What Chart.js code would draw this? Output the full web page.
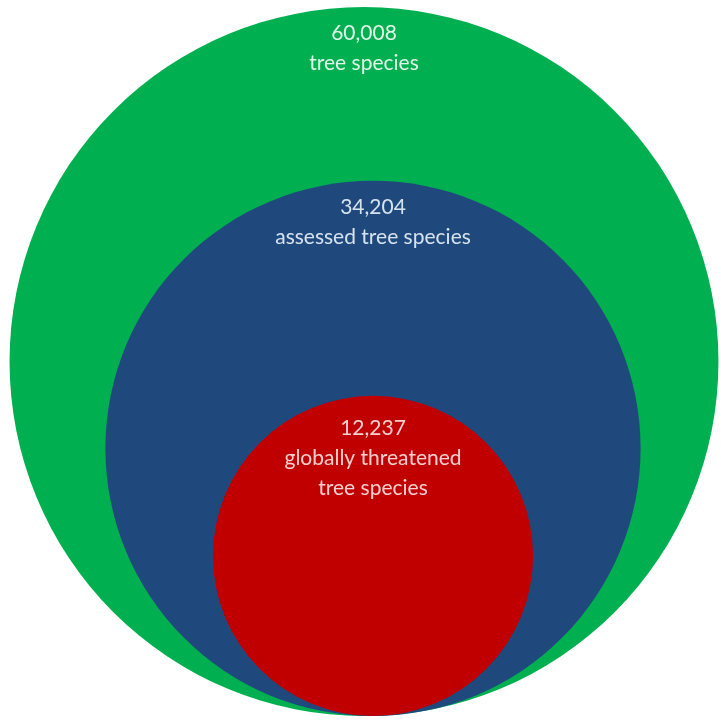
<!DOCTYPE html>
<html>
<head>
<meta charset="utf-8">
<script src="https://cdn.jsdelivr.net/npm/chart.js@4.4.1/dist/chart.umd.min.js"></script>
<style>
  html, body { margin: 0; padding: 0; background: #ffffff; }
  #wrap { width: 721px; height: 720px; position: relative; }
</style>
</head>
<body>
<div id="wrap"><canvas id="c"></canvas></div>
<script>
// ---- data ----
const categories = ["tree species", "assessed tree species", "globally threatened tree species"];
const values = [60008, 34204, 12237];
const valueLabels = ["60,008", "34,204", "12,237"];
const labelLines = [["tree species"], ["assessed tree species"], ["globally threatened", "tree species"]];
const colors = ["#00B050", "#1F497D", "#C00000"];

// ---- layout (not data) ----
const W = 721, H = 720;
const scaleK = 1.447;        // px radius per sqrt(value)  (area-proportional circles)
const baseline = 716;        // all circles rest on a common bottom line
const outerCx = 364;         // centre of largest circle
const innerShift = 9;        // inner circles shifted slightly to the right

const radii = values.map(v => scaleK * Math.sqrt(v));
const points = values.map((v, i) => ({
  x: outerCx + (i === 0 ? 0 : innerShift),
  y: baseline - radii[i],
  r: radii[i]
}));

const labelPlugin = {
  id: 'circleLabels',
  afterDatasetsDraw(chart) {
    const ctx = chart.ctx;
    ctx.save();
    ctx.textAlign = 'center';
    ctx.textBaseline = 'middle';
    ctx.font = '21px Lato, "Open Sans", sans-serif';
    chart.data.datasets.forEach((ds, i) => {
      const el = chart.getDatasetMeta(i).data[0];
      const top = el.y - el.options.radius;
      const lines = [valueLabels[i]].concat(labelLines[i]);
      const start = top + (i === 2 ? 32 : 26);
      ctx.fillStyle = ['rgba(235,250,240,0.95)', 'rgba(225,235,245,0.95)', 'rgba(250,220,220,0.95)'][i];
      lines.forEach((t, j) => ctx.fillText(t, el.x, start + j * 30));
    });
    ctx.restore();
  }
};

new Chart(document.getElementById('c'), {
  type: 'bubble',
  data: {
    datasets: values.map((v, i) => ({
      label: categories[i],
      data: [points[i]],
      backgroundColor: colors[i],
      borderWidth: 0,
      hoverBorderWidth: 0,
      clip: false,
      order: values.length - 1 - i   // largest circle drawn first (underneath)
    }))
  },
  options: {
    responsive: true,
    maintainAspectRatio: false,
    animation: false,
    events: [],
    layout: { padding: 0, autoPadding: false },
    plugins: { legend: { display: false }, tooltip: { enabled: false } },
    scales: {
      x: { type: 'linear', display: false, min: 0, max: W },
      y: { type: 'linear', display: false, min: 0, max: H, reverse: true }
    }
  },
  plugins: [labelPlugin]
});
</script>
</body>
</html>
